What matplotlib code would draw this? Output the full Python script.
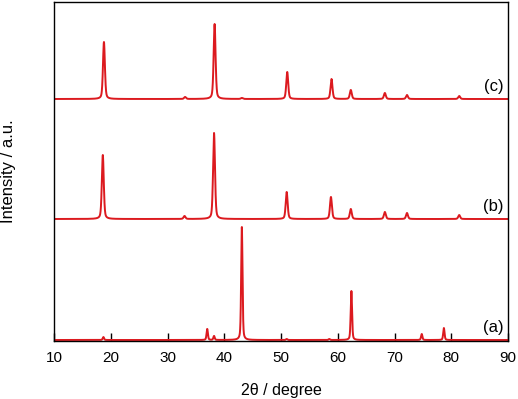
import numpy as np
import matplotlib
matplotlib.use("Agg")
import matplotlib.pyplot as plt

plt.rcParams['font.family'] = ['Liberation Sans', 'DejaVu Sans']

# Peak tables (2theta in degree, intensity in a.u.)
a_pos = [18.7, 37.0, 38.2, 43.1, 51.0, 58.5, 62.4, 74.8, 78.7]
a_int = [3, 11, 4, 113, 1, 1, 49, 6, 12]
b_pos = [18.6, 33.0, 38.2, 51.0, 58.8, 62.3, 68.3, 72.2, 81.4]
b_int = [64, 3, 86, 27, 22, 10, 7, 6, 4]
c_pos = [18.8, 33.1, 38.3, 43.1, 51.1, 58.9, 62.3, 68.3, 72.2, 81.4]
c_int = [57, 2, 75, 1, 27, 20, 9, 6, 4, 3]
offsets = [0, 121, 241]
labels = ['(a)', '(b)', '(c)']
xticks = [10, 20, 30, 40, 50, 60, 70, 80, 90]

x = np.linspace(10, 90, 16001)

def profile(pos, inten, w):
    y = np.zeros_like(x)
    for p, h in zip(pos, inten):
        g = np.exp(-4 * np.log(2) * ((x - p) / w) ** 2)
        l = 1 / (1 + 4 * ((x - p) / w) ** 2)
        y += h * (0.6 * g + 0.4 * l)
    return y

fig = plt.figure(figsize=(5.18, 3.99), dpi=100)
ax = fig.add_axes([54/518, 1-341/399, 454/518, 339/399])
color = '#dc1a1f'
for pos, inten, off, w in zip([a_pos, b_pos, c_pos], [a_int, b_int, c_int], offsets, [0.28, 0.4, 0.4]):
    ax.plot(x, profile(pos, inten, w) + off + 1, color=color, lw=1.4)

ax.set_xlim(10, 90)
ax.set_ylim(0, 339)
ax.set_xticks(xticks)
ax.set_yticks([])
ax.tick_params(axis='x', direction='in', length=6, width=1, labelsize=11, pad=7)
for s in ax.spines.values():
    s.set_linewidth(1.0)
ax.set_xlabel('2θ / degree', fontsize=11.5, labelpad=13)
ax.set_ylabel('Intensity / a.u.', fontsize=12, labelpad=27)

for lab, off in zip(labels, offsets):
    ax.text(89.2, off + 6, lab, ha='right', va='bottom', fontsize=12)

fig.savefig('out.png', dpi=100)
